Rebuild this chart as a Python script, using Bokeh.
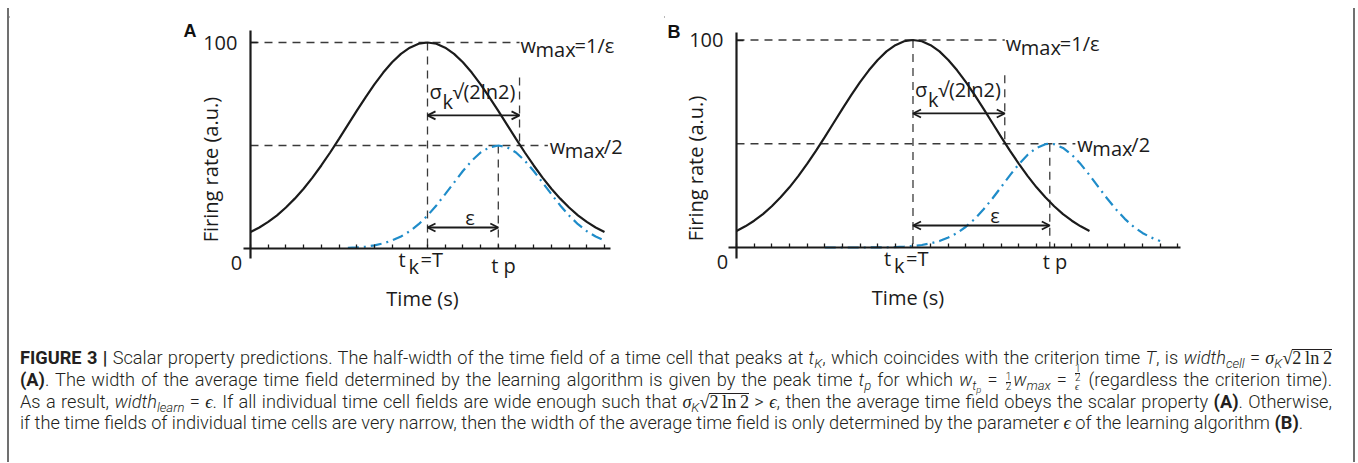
from math import pi
from bokeh.plotting import figure
from bokeh.models import ColumnDataSource, Arrow, OpenHead, FixedTicker, LinearAxis, Div, Range1d
from bokeh.layouts import column, row
from bokeh.core.properties import value
from bokeh.embed import file_html
from bokeh.resources import INLINE

# ---------------- data ----------------
time_A_cell = [0, 0.5, 1, 1.5, 2, 2.5, 3, 3.5, 4, 4.5, 5, 5.5, 6, 6.5, 7, 7.5, 8, 8.5, 9, 9.5, 10,
               10.5, 11, 11.5, 12, 12.5, 13, 13.5, 14, 14.5, 15, 15.5, 16, 16.5, 17, 17.5, 18, 18.5, 19, 19.5, 20]
rate_A_cell = [8.0, 10.2, 12.9, 16.1, 19.9, 24.2, 29.0, 34.4, 40.3, 46.6, 53.2, 60.0, 66.8, 73.4, 79.7, 85.4,
               90.4, 94.5, 97.5, 99.4, 100.0, 99.4, 97.5, 94.5, 90.4, 85.4, 79.7, 73.4, 66.8, 60.0, 53.2, 46.6,
               40.3, 34.4, 29.0, 24.2, 19.9, 16.1, 12.9, 10.2, 8.0]
time_A_avg = [5.5, 6, 6.5, 7, 7.5, 8, 8.5, 9, 9.5, 10, 10.5, 11, 11.5, 12, 12.5, 13, 13.5, 14,
              14.5, 15, 15.5, 16, 16.5, 17, 17.5, 18, 18.5, 19, 19.5, 20]
rate_A_avg = [0.3, 0.5, 0.9, 1.5, 2.5, 3.9, 5.8, 8.4, 11.8, 16.0, 20.9, 26.4, 32.0, 37.6, 42.6, 46.6, 49.1, 50.0,
              49.1, 46.6, 42.6, 37.6, 32.0, 26.4, 20.9, 16.0, 11.8, 8.4, 5.8, 3.9]

time_B_cell = [0, 0.5, 1, 1.5, 2, 2.5, 3, 3.5, 4, 4.5, 5, 5.5, 6, 6.5, 7, 7.5, 8, 8.5, 9, 9.5, 10,
               10.5, 11, 11.5, 12, 12.5, 13, 13.5, 14, 14.5, 15, 15.5, 16, 16.5, 17, 17.5, 18, 18.5, 19, 19.5, 20]
rate_B_cell = [8.0, 10.2, 12.9, 16.1, 19.9, 24.2, 29.0, 34.4, 40.3, 46.6, 53.2, 60.0, 66.8, 73.4, 79.7, 85.4,
               90.4, 94.5, 97.5, 99.4, 100.0, 99.4, 97.5, 94.5, 90.4, 85.4, 79.7, 73.4, 66.8, 60.0, 53.2, 46.6,
               40.3, 34.4, 29.0, 24.2, 19.9, 16.1, 12.9, 10.2, 8.0]
time_B_avg = [5, 5.5, 6, 6.5, 7, 7.5, 8, 8.5, 9, 9.5, 10, 10.5, 11, 11.5, 12, 12.5, 13, 13.5, 14, 14.5,
              15, 15.5, 16, 16.5, 17, 17.5, 17.75, 18, 18.5, 19, 19.5, 20, 20.5, 21, 21.5, 22, 22.5, 23, 23.5, 24]
rate_B_avg = [0.0, 0.0, 0.0, 0.0, 0.0, 0.0, 0.1, 0.1, 0.2, 0.4, 0.7, 1.2, 2.0, 3.1, 4.8, 7.0, 10.0, 13.8, 18.4,
              23.6, 29.2, 34.9, 40.2, 44.7, 48.0, 49.8, 50.0, 49.8, 48.0, 44.7, 40.2, 34.9, 29.2, 23.6, 18.4,
              13.8, 10.0, 7.0, 4.8, 3.1]

w_max = 100          # peak firing rate  (1/epsilon)
w_half = 50          # w_max / 2
t_k = 10             # criterion time T
t_p_A = 14
t_p_B = 17.75
sigma_edge = 15.2    # t_k + sigma_k*sqrt(2 ln 2)
sigma_top = 83
half_end_A = 16.8
half_end_B = 19.2
sigma_arrow_y = 64.6
eps_arrow_y_A = 10.2
eps_arrow_y_B = 10.6
ticks_A = list(range(0, 21))
ticks_B = list(range(0, 26))
xspan_A = (-0.4, 20.35)
xspan_B = (-0.45, 25.15)
yspan_A = (-4.9, 105.8)
yspan_B = (-5.3, 103.6)

FONT = value("Open Sans")
INK = "#1b1b1b"
DASH = "#3a3a3a"
BLUE = "#1f8cc9"
FRAME = "#707070"
PANEL_H = 310


def panel(letter, width, tb, rb, ta, ra, tp, half_end, eps_y, xr, yr, xspan, yspan, ticks,
          tp_dy, letter_dx, letter_dy, ylab_dx, ylab_y):
    p = figure(width=width, height=PANEL_H, x_range=Range1d(*xr), y_range=Range1d(*yr),
               x_axis_type=None, y_axis_type=None, output_backend="svg",
               toolbar_location=None, min_border=0, outline_line_color=None, margin=0)
    p.background_fill_color = "white"
    p.border_fill_color = "white"

    guides = ColumnDataSource(dict(
        x0=[0, 0, t_k, tp, sigma_edge],
        y0=[w_max, w_half, w_max, w_half, sigma_top],
        x1=[sigma_edge, half_end, t_k, tp, sigma_edge],
        y1=[w_max, w_half, 0, 0, w_half]))
    p.segment("x0", "y0", "x1", "y1", source=guides, line_color=DASH,
              line_width=1.3, line_dash="8 6")

    p.line(tb, rb, line_color=INK, line_width=2.2)
    p.line(ta, ra, line_color=BLUE, line_width=2.2, line_dash="11 5 2 5")

    arr = ColumnDataSource(dict(x0=[t_k, t_k], y0=[sigma_arrow_y, eps_y],
                                x1=[sigma_edge, tp], y1=[sigma_arrow_y, eps_y]))
    p.add_layout(Arrow(start=OpenHead(size=8, line_width=1.8, line_color=INK),
                       end=OpenHead(size=8, line_width=1.8, line_color=INK),
                       x_start="x0", y_start="y0", x_end="x1", y_end="y1", source=arr,
                       line_width=1.8, line_color=INK))

    xa = LinearAxis(fixed_location=0, bounds=xspan,
                    ticker=FixedTicker(ticks=[], minor_ticks=ticks),
                    axis_line_width=2.2, axis_line_color=INK,
                    minor_tick_in=4, minor_tick_out=0, minor_tick_line_width=1.3,
                    minor_tick_line_color=INK, major_tick_line_color=None)
    p.add_layout(xa, "below")
    ya = LinearAxis(fixed_location=0, bounds=yspan,
                    ticker=FixedTicker(ticks=[w_max], minor_ticks=[]),
                    axis_line_width=2.2, axis_line_color=INK,
                    major_tick_in=7, major_tick_out=0, major_tick_line_width=1.3,
                    major_tick_line_color=INK, minor_tick_line_color=None,
                    major_label_standoff=13, major_label_text_font="Open Sans",
                    major_label_text_font_size="20px", major_label_text_color=INK)
    p.add_layout(ya, "left")

    common = dict(text_font=FONT, text_font_size="20px", text_color=INK)
    left = ColumnDataSource(dict(
        x=[t_k, t_k, t_k, tp, sigma_edge, sigma_edge, sigma_edge, half_end, half_end, half_end,
           t_k, t_k, t_k],
        y=[0, 0, 0, 0, w_max, w_max, w_max, w_half, w_half, w_half,
           sigma_arrow_y, sigma_arrow_y, sigma_arrow_y],
        text=["t", "k", "=T", "t p", "w", "max", "=1/\u03b5", "w", "max", "/2",
              "\u03c3", "k", "\u221a(2ln2)"],
        dx=[-29, -19, -7, -7, 1, 16, 55, 2, 17, 56, 2, 15, 25],
        dy=[11, 18, 11, tp_dy, 3, 7, 3, 1, 5, 1, -24, -14, -24]))
    p.text("x", "y", "text", source=left, x_offset="dx", y_offset="dy",
           text_align="left", text_baseline="alphabetic", **common)

    p.text(x=[0, t_k + 0.6 * (tp - t_k)], y=[0, eps_y], text=["0", "\u03b5"],
           x_offset=[-14, 0], y_offset=[15, -10],
           text_align="center", text_baseline="alphabetic", **common)
    p.text(x=[t_k], y=[0], text=["Time (s)"], x_offset=-5, y_offset=50,
           text_align="center", text_baseline="middle", **common)
    p.text(x=[0], y=[ylab_y], text=["Firing rate (a.u.)"], x_offset=ylab_dx, angle=pi / 2,
           text_align="center", text_baseline="middle", **common)
    p.text(x=[0], y=[w_max], text=[letter], x_offset=letter_dx, y_offset=letter_dy,
           text_font=value("Liberation Sans"), text_font_style="bold",
           text_font_size="18px", text_color="#111111",
           text_align="left", text_baseline="alphabetic")
    return p


pa = panel("A", 655, time_A_cell, rate_A_cell, time_A_avg, rate_A_avg, t_p_A, half_end_A, eps_arrow_y_A,
           (-13.616, 23.390), (-33.981, 116.505), xspan_A, yspan_A, ticks_A,
           17, -67, -12, -40, 38.3)
pb = panel("B", 689, time_B_cell, rate_B_cell, time_B_avg, rate_B_avg, t_p_B, half_end_B, eps_arrow_y_B,
           (-4.079, 34.958), (-34.217, 115.181), xspan_B, yspan_B, ticks_B,
           14, -69, -8, -41, 38.1)


def strip(w, h):
    return Div(text=f'<div style="width:{w}px;height:{h}px;background:{FRAME}"></div>',
               width=w, height=h, margin=0)


style = """<style>
.cap{box-sizing:border-box;width:1348px;height:144px;padding:29px 0 0 11px;
     border-left:2px solid #707070;border-right:2px solid #707070;
     font-family:Roboto,sans-serif;font-weight:300;font-size:18.2px;color:#231f20;}
.ln{width:1312px;height:21.8px;line-height:21.8px;white-space:nowrap;}
.j{text-align:justify;text-align-last:justify;word-spacing:-2px;}
.cap b{font-weight:700;}
.cap sub{font-size:0.72em;vertical-align:-0.3em;line-height:0;}
.m{font-family:'Liberation Serif',serif;font-style:normal;word-spacing:0;}
.mi{font-family:'Liberation Serif',serif;font-style:italic;}
.ov{display:inline-block;line-height:14px;border-top:1px solid #231f20;padding-top:1px;}
.fr{display:inline-block;vertical-align:-4px;text-align:center;font-size:10px;line-height:8.5px;
    margin:-9px 2px -9px 2px;word-spacing:0;}
.fr span{display:block;}
.fr .nu{border-bottom:1px solid #231f20;}
</style>"""

sq = ('<span class="mi">\u03c3</span><sub><i>K</i></sub><span class="m">\u221a'
      '<span class="ov">2\u2009ln\u20092</span></span>')
eps = '<span class="mi">\u03f5</span>'
line1 = ('<b>FIGURE 3 |</b> Scalar property predictions. The half-width of the time field of a time cell that peaks at '
         '<i>t</i><sub><i>K</i></sub>, which coincides with the criterion time <i>T</i>, is '
         '<i>width</i><sub><i>cell</i></sub> = ' + sq)
line2 = ('<b>(A)</b>. The width of the average time field determined by the learning algorithm is given by the peak time '
         '<i>t</i><sub><i>p</i></sub> for which <i>w</i><sub><i>t<sub>p</sub></i></sub> = '
         '<span class="fr"><span class="nu">1</span><span>2</span></span><i>w</i><sub><i>max</i></sub> = '
         '<span class="fr"><span class="nu">1</span><span>2' + eps + '</span></span> (regardless the criterion time).')
line3 = ('As a result, <i>width</i><sub><i>learn</i></sub> = ' + eps + '. If all individual time cell fields are wide enough such that '
         + sq + ' &gt; ' + eps + ', then the average time field obeys the scalar property <b>(A)</b>. Otherwise,')
line4 = ('if the time fields of individual time cells are very narrow, then the width of the average time field is only '
         'determined by the parameter ' + eps + ' of the learning algorithm <b>(B)</b>.')

html = (style + '<div class="cap">'
        + '<div class="ln j">' + line1 + '</div>'
        + '<div class="ln j">' + line2 + '</div>'
        + '<div class="ln j">' + line3 + '</div>'
        + '<div class="ln">' + line4 + '</div></div>')

cap = Div(text=html, width=1348, height=144, margin=0)

page = column(strip(1348, 2),
              row(strip(2, PANEL_H), pa, pb, strip(2, PANEL_H), margin=0, spacing=0),
              cap, margin=(6, 0, 0, 7), spacing=0, styles={"background": "white"})

open("out.html", "w").write(file_html(page, INLINE))
